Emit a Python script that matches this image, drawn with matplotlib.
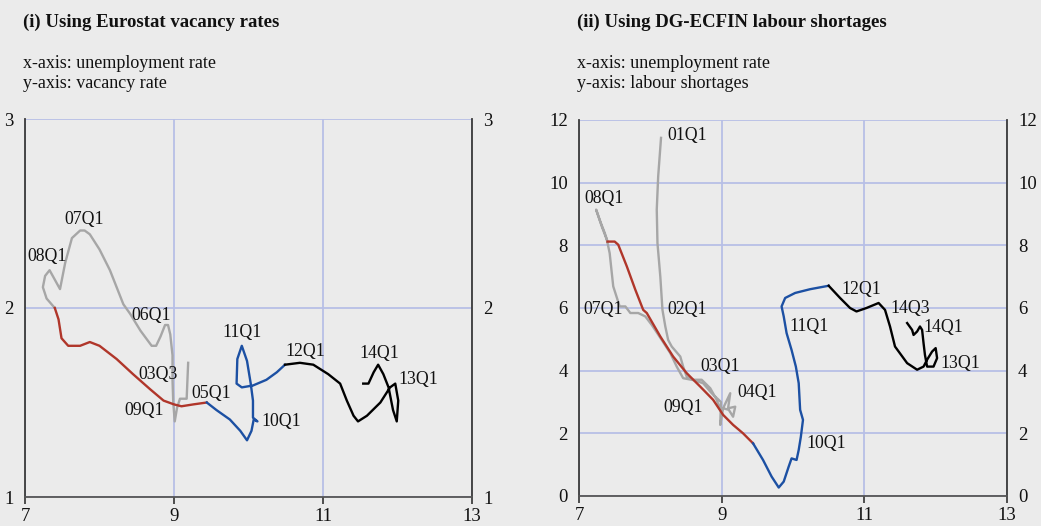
import matplotlib
matplotlib.use("Agg")
import matplotlib.pyplot as plt

plt.rcParams['font.family'] = ['Liberation Serif', 'DejaVu Serif']

BG = '#ebebeb'
GRID = '#b7bfe6'
C_GREY = '#a6a6a6'
C_RED = '#b0362a'
C_BLUE = '#1c50a3'
C_BLACK = '#000000'

# ---------------- Panel (i): Eurostat vacancy rates ----------------
# (unemployment rate, vacancy rate)
l_grey_x = [9.19, 9.17, 9.08, 9.04, 9.01, 8.99, 8.98, 8.98, 8.95, 8.92, 8.88, 8.82, 8.76, 8.70,
            8.55, 8.41, 8.32, 8.14, 8.00, 7.87, 7.80, 7.74, 7.63, 7.54, 7.47, 7.40, 7.33, 7.27,
            7.24, 7.29, 7.40]
l_grey_y = [1.71, 1.52, 1.52, 1.47, 1.40, 1.50, 1.62, 1.75, 1.86, 1.91, 1.91, 1.85, 1.80, 1.80,
            1.88, 1.97, 2.02, 2.20, 2.31, 2.39, 2.41, 2.41, 2.37, 2.24, 2.10, 2.15, 2.20, 2.17,
            2.11, 2.05, 2.00]
l_red_x = [7.40, 7.45, 7.49, 7.58, 7.74, 7.87, 8.00, 8.23, 8.45, 8.68, 8.86, 9.00, 9.10, 9.26, 9.44]
l_red_y = [2.00, 1.94, 1.84, 1.80, 1.80, 1.82, 1.80, 1.73, 1.65, 1.57, 1.51, 1.49, 1.48, 1.49, 1.50]
l_blue_x = [9.44, 9.57, 9.75, 9.89, 9.98, 10.04, 10.07, 10.12, 10.06, 10.06, 10.03, 9.98, 9.91,
            9.85, 9.84, 9.91, 10.06, 10.24, 10.38, 10.49]
l_blue_y = [1.50, 1.46, 1.41, 1.35, 1.30, 1.35, 1.41, 1.40, 1.42, 1.51, 1.60, 1.72, 1.80,
            1.73, 1.60, 1.58, 1.59, 1.62, 1.66, 1.70]
l_black_x = [10.49, 10.69, 10.87, 11.07, 11.23, 11.32, 11.41, 11.47, 11.59, 11.77, 11.90, 11.97,
             12.01, 11.99, 11.94, 11.88, 11.81, 11.74, 11.68, 11.61, 11.54]
l_black_y = [1.70, 1.71, 1.70, 1.65, 1.60, 1.51, 1.43, 1.40, 1.43, 1.50, 1.58, 1.60,
             1.51, 1.40, 1.46, 1.58, 1.65, 1.70, 1.66, 1.60, 1.60]
l_labels = ['07Q1', '08Q1', '06Q1', '11Q1', '12Q1', '14Q1', '13Q1', '03Q3', '05Q1', '09Q1', '10Q1']
l_label_x = [7.79, 7.30, 8.69, 9.91, 10.76, 11.75, 12.28, 8.78, 9.50, 8.60, 10.44]
l_label_y = [2.47, 2.27, 1.96, 1.87, 1.77, 1.76, 1.62, 1.65, 1.55, 1.46, 1.40]

# ---------------- Panel (ii): DG-ECFIN labour shortages ----------------
r_grey_x = [8.15, 8.11, 8.09, 8.10, 8.14, 8.17, 8.21, 8.25, 8.30, 8.42, 8.46, 8.51, 8.60, 8.72,
            8.84, 8.93, 8.98, 9.02, 9.12, 9.09, 9.19, 9.16, 9.10, 9.02, 8.98, 8.99,
            8.86, 8.74, 8.60, 8.46, 8.37, 8.28, 8.16, 8.02, 7.93, 7.83, 7.72, 7.65, 7.57,
            7.48, 7.46, 7.43, 7.39, 7.32, 7.24, 7.30, 7.36, 7.40]
r_grey_y = [11.43, 10.20, 9.14, 8.07, 7.00, 5.94, 5.41, 4.98, 4.77, 4.45, 4.13, 3.81, 3.71, 3.71,
            3.44, 3.07, 2.75, 2.80, 3.28, 2.80, 2.85, 2.53, 2.75, 2.80, 2.27, 3.00,
            3.28, 3.60, 3.70, 3.76, 4.13, 4.56, 4.98, 5.46, 5.73, 5.84, 5.84, 6.05, 6.05,
            6.69, 7.11, 7.75, 8.18, 8.60, 9.14, 8.75, 8.40, 8.12]
r_red_x = [7.40, 7.50, 7.55, 7.67, 7.79, 7.90, 7.95, 8.14, 8.32, 8.51, 8.70, 8.88, 9.02, 9.16,
           9.30, 9.44]
r_red_y = [8.12, 8.12, 8.02, 7.33, 6.58, 5.94, 5.84, 5.09, 4.45, 3.92, 3.49, 3.07, 2.59, 2.27,
           2.00, 1.68]
r_blue_x = [9.44, 9.58, 9.70, 9.80, 9.87, 9.94, 9.98, 10.05, 10.08, 10.11, 10.14, 10.10, 10.08,
            10.04, 9.98, 9.91, 9.87, 9.84, 9.89, 10.03, 10.24, 10.50]
r_blue_y = [1.68, 1.15, 0.62, 0.27, 0.46, 0.94, 1.20, 1.15, 1.47, 1.89, 2.43, 2.75, 3.60,
            4.13, 4.66, 5.20, 5.73, 6.05, 6.32, 6.48, 6.60, 6.71]
r_black_x = [10.50, 10.66, 10.80, 10.89, 11.03, 11.20, 11.29, 11.36, 11.43, 11.60, 11.74, 11.83,
             11.88, 11.95, 12.00, 12.02, 11.97, 11.88, 11.85, 11.83, 11.81, 11.78, 11.74, 11.69,
             11.67, 11.60]
r_black_y = [6.71, 6.32, 6.00, 5.89, 6.00, 6.16, 5.94, 5.41, 4.77, 4.24, 4.03, 4.13,
             4.35, 4.61, 4.72, 4.40, 4.13, 4.13, 4.50, 4.88, 5.30, 5.41, 5.25, 5.14,
             5.30, 5.52]
r_labels = ['01Q1', '08Q1', '07Q1', '02Q1', '03Q1', '04Q1', '09Q1', '10Q1', '11Q1', '12Q1',
            '14Q3', '14Q1', '13Q1']
r_label_x = [8.51, 7.35, 7.34, 8.51, 8.98, 9.50, 8.46, 10.46, 10.23, 10.96, 11.65, 12.11, 12.34]
r_label_y = [11.50, 9.49, 5.94, 5.94, 4.12, 3.31, 2.81, 1.66, 5.41, 6.58, 6.00, 5.38, 4.22]

x_ticks = [7, 9, 11, 13]
l_yticks = [1, 2, 3]
r_yticks = [0, 2, 4, 6, 8, 10, 12]

W, H = 1041, 526
fig = plt.figure(figsize=(W / 100, H / 100), dpi=100, facecolor=BG)


def px_axes(x0, y0, x1, y1):
    return fig.add_axes([x0 / W, 1 - y1 / H, (x1 - x0) / W, (y1 - y0) / H])


def style(ax, yticks, ylim):
    ax.set_facecolor(BG)
    ax.set_xlim(7, 13)
    ax.set_ylim(*ylim)
    ax.set_xticks(x_ticks)
    ax.set_yticks(yticks)
    ax.grid(True, color=GRID, lw=1.3, zorder=0)
    ax.set_axisbelow(True)
    for s in ['left', 'right']:
        ax.spines[s].set_color('#3a3a3a')
        ax.spines[s].set_linewidth(1.3)
    ax.spines['bottom'].set_color('#555555')
    ax.spines['bottom'].set_linewidth(1.3)
    ax.spines['top'].set_visible(False)
    ax.tick_params(axis='x', direction='out', length=5, width=1.2, color='#333333',
                   labelsize=13.5, pad=3)
    ax.tick_params(axis='y', left=True, right=True, labelleft=True, labelright=True,
                   length=0, labelsize=13.5, pad=8)
    for lab in ax.get_xticklabels() + ax.get_yticklabels():
        lab.set_color('#111111')


def draw_labels(ax, labels, xs, ys):
    for t, x, y in zip(labels, xs, ys):
        ax.text(x, y, t, ha='center', va='center', fontsize=12.8, color='#111111',
                zorder=5, clip_on=False)


# Panel (i)
ax1 = px_axes(25, 119, 472, 497)
style(ax1, l_yticks, (1, 3))
lw = 1.7
ax1.plot(l_grey_x, l_grey_y, color=C_GREY, lw=lw, zorder=3)
ax1.plot(l_red_x, l_red_y, color=C_RED, lw=lw, zorder=3)
ax1.plot(l_blue_x, l_blue_y, color=C_BLUE, lw=lw, zorder=3)
ax1.plot(l_black_x, l_black_y, color=C_BLACK, lw=lw, zorder=3)
draw_labels(ax1, l_labels, l_label_x, l_label_y)

# Panel (ii)
ax2 = px_axes(579, 120, 1007, 496)
style(ax2, r_yticks, (0, 12))
ax2.plot(r_grey_x, r_grey_y, color=C_GREY, lw=lw, zorder=3)
ax2.plot(r_red_x, r_red_y, color=C_RED, lw=lw, zorder=3)
ax2.plot(r_blue_x, r_blue_y, color=C_BLUE, lw=lw, zorder=3)
ax2.plot(r_black_x, r_black_y, color=C_BLACK, lw=lw, zorder=3)
draw_labels(ax2, r_labels, r_label_x, r_label_y)

# Titles and subtitles
fig.text(23 / W, 1 - 22 / H, '(i) Using Eurostat vacancy rates', fontsize=13.5,
         fontweight='bold', ha='left', va='center', color='#111111')
fig.text(23 / W, 1 - 63 / H, 'x-axis: unemployment rate', fontsize=13,
         ha='left', va='center', color='#111111')
fig.text(23 / W, 1 - 84 / H, 'y-axis: vacancy rate', fontsize=13,
         ha='left', va='center', color='#111111')
fig.text(577 / W, 1 - 22 / H, '(ii) Using DG-ECFIN labour shortages', fontsize=13.5,
         fontweight='bold', ha='left', va='center', color='#111111')
fig.text(577 / W, 1 - 63 / H, 'x-axis: unemployment rate', fontsize=13,
         ha='left', va='center', color='#111111')
fig.text(577 / W, 1 - 84 / H, 'y-axis: labour shortages', fontsize=13,
         ha='left', va='center', color='#111111')

fig.savefig('out.png', dpi=100, facecolor=BG)
